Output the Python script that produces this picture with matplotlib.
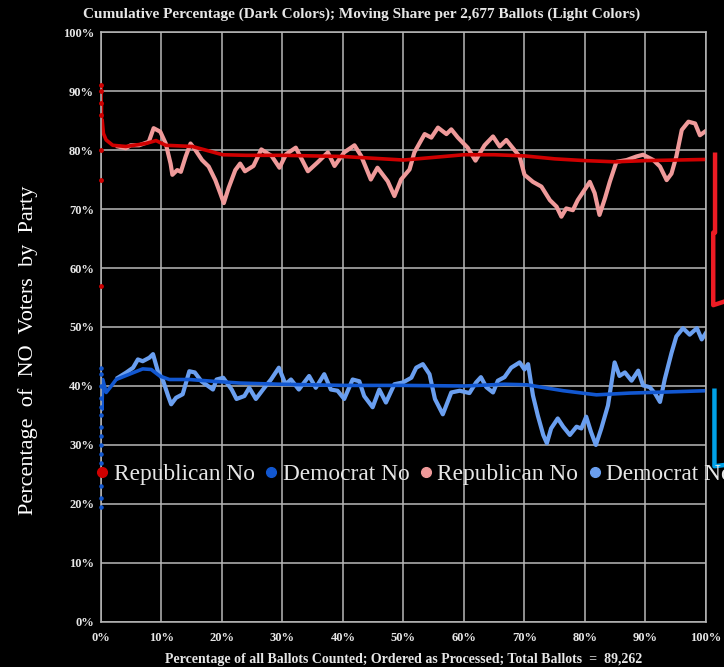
import numpy as np
import matplotlib
matplotlib.use('Agg')
import matplotlib.pyplot as plt
from matplotlib.lines import Line2D

# cumulative share (dark colors)
rep_cum_x = [0, 0.03, 0.06, 0.1, 0.2, 0.4, 0.85, 1.95, 4.1, 7.4, 9.1, 10.7, 15.1, 20.1, 24, 30, 40, 50, 60, 65, 70, 75, 80, 85, 90, 95, 100]
rep_cum_y = [90.7, 86.3, 88.0, 84.5, 85.0, 82.8, 81.7, 80.8, 80.6, 81.1, 81.6, 80.8, 80.6, 79.2, 79.1, 79.1, 78.9, 78.3, 79.2, 79.2, 79.0, 78.5, 78.2, 78.0, 78.2, 78.3, 78.4]
dem_cum_x = [0, 0.15, 0.3, 0.85, 1.7, 2.5, 4.7, 6.9, 8.3, 9.7, 11.3, 14.6, 18.5, 22.9, 29.5, 40, 50, 60, 66.7, 70.4, 76.4, 81.9, 87.4, 94, 100]
dem_cum_y = [41.0, 36.0, 41.1, 38.9, 40.0, 41.1, 42.0, 42.9, 42.8, 41.7, 41.1, 41.1, 40.8, 40.5, 40.3, 40.1, 40.1, 40.0, 40.3, 40.2, 39.2, 38.5, 38.8, 39.0, 39.2]

# first few ballots, shown as loose dots at 0%
rep_first = [57, 75, 80, 86, 88, 90, 91]
dem_first = [19.5, 21, 23, 25, 27, 28.5, 30, 31.5, 33, 35, 36.5, 38, 40, 42, 43]

# moving share per 2,677 ballots (light colors)
rep_mov_x = [2.8, 4.1, 4.9, 6.3, 7.9, 8.7, 9.8, 10.7, 11.5, 11.8, 12.6, 13.2, 14.0, 14.8, 15.6, 16.7, 17.8, 18.9, 19.7, 20.3,
             21.1, 22.2, 23.0, 23.8, 25.2, 26.5, 28.2, 29.5, 30.6, 32.2, 34.2, 35.8, 37.5, 38.6, 40.2, 41.9, 43.0, 44.6, 45.7, 47.4,
             48.5, 49.6, 51.0, 51.8, 53.5, 54.6, 55.7, 57.1, 57.9, 59.0, 60.6, 61.9, 63.4, 64.8, 65.9, 67.0, 68.1, 69.2, 70.0, 71.4,
             72.8, 74.2, 75.3, 76.1, 76.9, 78.0, 78.8, 79.9, 80.8, 81.6, 82.4, 83.3, 84.1, 85.2, 86.9, 88.5, 89.6, 91.3, 92.4, 93.5,
             94.3, 95.1, 96.0, 97.1, 98.2, 99.0, 99.8]
rep_mov_y = [80.6, 80.3, 80.8, 80.8, 81.4, 83.7, 83.1, 81.1, 77.7, 75.8, 76.6, 76.3, 78.9, 81.1, 80.0, 78.3, 77.2, 74.9, 72.7, 71.0,
             73.6, 76.6, 77.7, 76.4, 77.3, 80.1, 79.0, 77.0, 79.3, 80.4, 76.4, 77.9, 79.6, 77.3, 79.6, 80.8, 79.0, 75.0, 77.0, 74.7,
             72.2, 75.0, 76.7, 79.6, 82.7, 82.1, 83.8, 82.7, 83.5, 82.1, 80.4, 78.2, 80.8, 82.3, 80.6, 81.7, 80.3, 78.9, 75.8, 74.6,
             73.8, 71.5, 70.4, 68.7, 70.1, 69.8, 71.5, 73.2, 74.6, 72.7, 69.0, 71.8, 74.6, 78.0, 78.3, 78.9, 79.2, 78.3, 77.2, 74.9,
             76.0, 78.9, 83.4, 84.8, 84.5, 82.5, 83.1]
dem_mov_x = [2.8, 4.2, 5.3, 6.1, 6.9, 8.0, 8.6, 9.4, 10.2, 11.1, 11.6, 12.4, 13.5, 14.6, 15.5, 16.6, 17.7, 18.5, 19.1, 20.2,
             21.6, 22.4, 23.7, 24.5, 25.6, 27.0, 28.1, 29.4, 30.5, 31.4, 32.7, 34.4, 35.5, 36.9, 38.0, 39.1, 40.2, 41.6, 42.7, 43.5,
             44.9, 46.0, 47.1, 48.5, 49.9, 51.3, 52.1, 53.2, 54.3, 55.2, 56.5, 57.9, 59.3, 60.9, 62.0, 62.8, 63.7, 64.8, 65.6, 66.7,
             67.8, 69.2, 70.0, 70.6, 71.4, 72.2, 73.1, 73.7, 74.4, 75.5, 76.4, 77.5, 78.6, 79.4, 80.2, 81.0, 81.8, 82.7, 83.8, 84.9,
             85.7, 86.6, 87.7, 88.8, 89.6, 90.7, 91.6, 92.4, 93.2, 94.3, 95.1, 96.2, 97.3, 98.5, 99.3, 100.0]
dem_mov_y = [41.4, 42.3, 43.1, 44.5, 44.2, 44.8, 45.4, 42.5, 41.1, 38.3, 36.9, 38.0, 38.6, 42.5, 42.3, 40.8, 40.0, 39.4, 41.1, 41.4,
             39.4, 37.8, 38.3, 39.7, 37.8, 39.7, 41.1, 43.1, 40.3, 41.1, 39.4, 41.7, 39.7, 42.0, 39.4, 39.2, 37.8, 41.1, 40.8, 38.3,
             36.4, 39.4, 37.2, 40.3, 40.6, 41.4, 43.1, 43.7, 42.0, 37.8, 35.2, 38.9, 39.2, 38.8, 40.6, 41.5, 39.8, 38.9, 40.9, 41.5,
             43.1, 44.0, 42.8, 43.7, 38.4, 35.0, 31.7, 30.3, 32.8, 34.5, 33.1, 31.7, 33.1, 32.8, 34.8, 32.2, 30.0, 32.8, 36.7, 44.0,
             41.7, 42.3, 40.9, 42.6, 40.1, 39.8, 38.7, 37.3, 41.2, 45.6, 48.4, 49.8, 48.7, 49.8, 47.9, 49.0]

# stray bars sticking out past the right edge of the plot
rep_side_x = [101.5, 101.5, 101.2, 101.2, 103.0]
rep_side_y = [79.2, 66.0, 66.0, 53.7, 54.3]
dem_side_x = [101.4, 101.4, 103.0]
dem_side_y = [39.2, 26.4, 26.6]

labels = ['Republican No', 'Democrat No', 'Republican No', 'Democrat No']
colors = ['#d00000', '#1257d0', '#ef9a9a', '#6a9ff0']
side_colors = ['#ee1c24', '#00a2e8']

serif = ['Liberation Serif', 'DejaVu Serif']
fg = '#e6e6e6'

fig = plt.figure(figsize=(7.24, 6.67), dpi=100, facecolor='black')
ax = fig.add_axes([0.1395, 0.0675, 0.8356, 0.8845])
ax.set_facecolor('black')

ax.plot(rep_mov_x, rep_mov_y, color=colors[2], lw=3.0, solid_joinstyle='round')
ax.plot(dem_mov_x, dem_mov_y, color=colors[3], lw=3.0, solid_joinstyle='round')
ax.plot(rep_cum_x, rep_cum_y, color=colors[0], lw=2.6)
ax.plot(dem_cum_x, dem_cum_y, color=colors[1], lw=2.6)
ax.scatter([0] * len(rep_first), rep_first, s=6, color=colors[0], zorder=3, clip_on=False)
ax.scatter([0] * len(dem_first), dem_first, s=5, color=colors[1], zorder=3, clip_on=False)

ax.plot(rep_side_x, rep_side_y, color=side_colors[0], lw=3.2, clip_on=False)
ax.plot(dem_side_x, dem_side_y, color=side_colors[1], lw=3.2, clip_on=False)

ax.set_xlim(0, 100)
ax.set_ylim(0, 100)
ax.set_xticks(np.arange(0, 101, 10))
ax.set_yticks(np.arange(0, 101, 10))
ax.set_xticklabels(['%d%%' % v for v in range(0, 101, 10)])
ax.set_yticklabels(['%d%%' % v for v in range(0, 101, 10)])
ax.grid(True, color='#b8b8b8', lw=1.1)
ax.set_axisbelow(True)
for s in ax.spines.values():
    s.set_color('#b8b8b8')
    s.set_linewidth(1.1)
ax.tick_params(colors=fg, length=0, pad=5)
ax.tick_params(axis='x', pad=7)
for t in ax.get_xticklabels() + ax.get_yticklabels():
    t.set_family(serif)
    t.set_fontsize(9)
    t.set_fontweight('bold')
    t.set_color(fg)

fig.text(0.5, 0.979, 'Cumulative Percentage (Dark Colors); Moving Share per 2,677 Ballots (Light Colors)',
         family=serif, fontsize=11, fontweight='bold', color=fg, ha='center', va='center')
ax.set_xlabel('Percentage of all Ballots Counted; Ordered as Processed; Total Ballots  =  89,262',
              family=serif, fontsize=10, fontweight='bold', color=fg, labelpad=7)
fig.text(0.039, 0.475, 'Percentage  of  NO  Voters  by  Party', rotation=90, family=serif,
         fontsize=16, color='white', ha='center', va='center')

handles = [Line2D([], [], ls='none', marker='o', ms=7, color=c) for c in colors]
leg = fig.legend(handles, labels, loc='center left', bbox_to_anchor=(0.118, 0.289), ncol=4,
                 frameon=False, handlelength=0.6, handletextpad=0.21, columnspacing=0.39,
                 borderaxespad=0, prop={'family': serif, 'size': 16.8})
for t in leg.get_texts():
    t.set_color(fg)

fig.savefig('out.png', dpi=100, facecolor='black')
